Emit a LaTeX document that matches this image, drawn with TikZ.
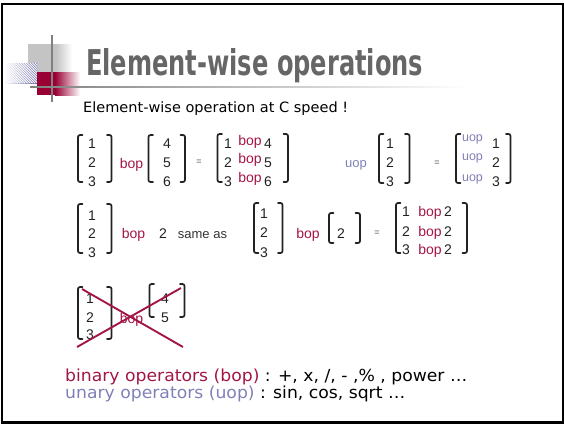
\documentclass[tikz,border=0pt]{standalone}
\usepackage{fontspec}
\setmainfont{Liberation Sans}
\newfontfamily\headfont{DejaVu Sans}
\usepackage{graphicx}
\usetikzlibrary{shadings}

\definecolor{bopred}{RGB}{163,22,68}
\definecolor{uoplav}{RGB}{128,128,184}
\definecolor{titlegray}{RGB}{102,102,102}
\definecolor{logogray}{RGB}{196,196,196}
\definecolor{logored}{RGB}{153,0,51}
\definecolor{logoblue}{RGB}{104,104,168}
\definecolor{inkdark}{RGB}{34,34,34}

\tikzset{
  mbrk/.style={line width=1.7pt, line cap=round, rounded corners=2pt, draw=inkdark},
  ent/.style={anchor=base, inner sep=0pt, font=\fontsize{14}{14}\selectfont, text=inkdark},
  bopt/.style={ent, text=bopred},
  uopt/.style={ent, text=uoplav, font=\fontsize{13}{13}\selectfont},
  uopin/.style={ent, text=uoplav, font=\fontsize{12.5}{12.5}\selectfont},
  eqsign/.style={anchor=center, inner sep=0pt, font=\fontsize{9}{9}\selectfont, text=black!70},
  note/.style={ent, font=\fontsize{13}{13}\selectfont, text=black!80},
  line/.style={anchor=base west, inner sep=0pt},
  strike/.style={draw=bopred, line width=1.9pt}
}

% square brackets of a column vector: left x, right x, top y, bottom y
\newcommand\vecbrackets[4]{%
  \draw[mbrk] (#1+4.5,#3) -- (#1,#3) -- (#1,#4) -- (#1+4.5,#4);
  \draw[mbrk] (#2-4.5,#3) -- (#2,#3) -- (#2,#4) -- (#2-4.5,#4);
}

\begin{document}
\begin{tikzpicture}[x=1pt,y=-1pt]
\useasboundingbox (0,0) rectangle (564,424);
\draw[line width=2.2pt] (2,4) rectangle (562.6,422.5);

% ---- logo ----
\fill[logogray] (28,44) rectangle (56,72);
\shade[left color=logogray, right color=white] (56,44) rectangle (72,72);
\begin{scope}
  \clip (4,63) rectangle (37,83);
  \shade[shading angle=45, left color=white, right color=logoblue] (4,63) rectangle (37,83);
  \foreach \a in {-20,-17.5,...,40} \draw[white, line width=0.9pt] (\a,63) -- (\a+20,83);
\end{scope}
\fill[logored] (37,72) rectangle (55,95);
\shade[left color=logored, right color=white] (55,72) rectangle (80,95);
\draw[gray, line width=1.4pt] (52,35) -- (52,102);
\shade[left color=gray, middle color=gray!50, right color=white] (30,86.3) rectangle (470,87.7);

% ---- headings ----
\node[line, text=titlegray] (title) at (86,75)
  {\resizebox{337pt}{27pt}{\headfont\bfseries Element-wise operations}};
\node[line] (subtitle) at (83,112)
  {\resizebox{265pt}{10.8pt}{\headfont Element-wise operation at C speed !}};

% ---- row 1: vector bop vector ----
\vecbrackets{78}{111.5}{135}{182}
\foreach \v/\y [count=\i] in {1/148,2/167,3/186} \node[ent] (a\i) at (92,\y) {\v};
\node[bopt] (bopA) at (131.5,168) {bop};
\vecbrackets{148.5}{185}{135}{182}
\foreach \v/\y [count=\i] in {4/148,5/167,6/186} \node[ent] (b\i) at (167,\y) {\v};
\node[eqsign] (eqA) at (199,162) {=};
\vecbrackets{217.5}{288}{134}{182}
\foreach \l/\r/\y/\yo [count=\i] in {1/4/148/145,2/5/167/163.5,3/6/186/182} {
  \node[ent] (cl\i) at (228,\y) {\l};
  \node[bopt] (cb\i) at (250,\yo) {bop};
  \node[ent] (cr\i) at (268,\y) {\r};
}

% ---- row 1: uop vector ----
\node[uopt] (uopA) at (356,167) {uop};
\vecbrackets{379}{409.5}{134}{183}
\foreach \v/\y [count=\i] in {1/148,2/167,3/186} \node[ent] (d\i) at (390,\y) {\v};
\node[eqsign] (eqB) at (437,163) {=};
\vecbrackets{456}{510.5}{134}{183}
\foreach \v/\y/\yo [count=\i] in {1/148/141,2/167/160,3/186/181} {
  \node[uopin] (eu\i) at (472.5,\yo) {uop};
  \node[ent] (ed\i) at (496,\y) {\v};
}

% ---- row 2: vector bop scalar ----
\vecbrackets{78}{111.5}{204}{253}
\foreach \v/\y [count=\i] in {1/220,2/238,3/257} \node[ent] (f\i) at (92,\y) {\v};
\node[bopt] (bopB) at (133.5,238) {bop};
\node[ent] (scal) at (163,238) {2};
\node[note] (same) at (202.5,238) {same as};
\vecbrackets{254}{282.5}{203}{253}
\foreach \v/\y [count=\i] in {1/218,2/237,3/257} \node[ent] (g\i) at (264,\y) {\v};
\node[bopt] (bopC) at (308,238) {bop};
\vecbrackets{329}{360}{213}{243}
\node[ent] (h1) at (341,238) {2};
\node[eqsign] (eqC) at (377,233) {=};
\vecbrackets{396}{467}{203}{253}
\foreach \v/\y [count=\i] in {1/216,2/236,3/254} {
  \node[ent] (kl\i) at (406,\y) {\v};
  \node[bopt] (kb\i) at (430,\y) {bop};
  \node[ent] (kr\i) at (448,\y) {2};
}

% ---- row 3: mismatched shapes, struck out ----
\vecbrackets{78}{111.5}{287}{339}
\foreach \v/\y [count=\i] in {1/303,2/322,3/339} \node[ent] (m\i) at (90,\y) {\v};
\node[bopt] (bopD) at (131.5,323) {bop};
\vecbrackets{149.5}{184.5}{284}{317}
\foreach \v/\y [count=\i] in {4/303,5/322} \node[ent] (n\i) at (165,\y) {\v};
\coordinate (xa1) at (77,347);
\coordinate (xa2) at (181,288);
\coordinate (xb1) at (82,289);
\coordinate (xb2) at (183,347);
\draw[strike] (xa1) -- (xa2);
\draw[strike] (xb1) -- (xb2);

% ---- legend ----
\node[line] (binline) at (65,381)
  {\resizebox{402pt}{12.6pt}{\headfont\textcolor{bopred}{binary operators (bop)} : +, x, /, - ,\% , power …}};
\node[line] (unline) at (65,398)
  {\resizebox{340pt}{12.6pt}{\headfont\textcolor{uoplav}{unary operators (uop)} : sin, cos, sqrt …}};
\end{tikzpicture}
\end{document}
